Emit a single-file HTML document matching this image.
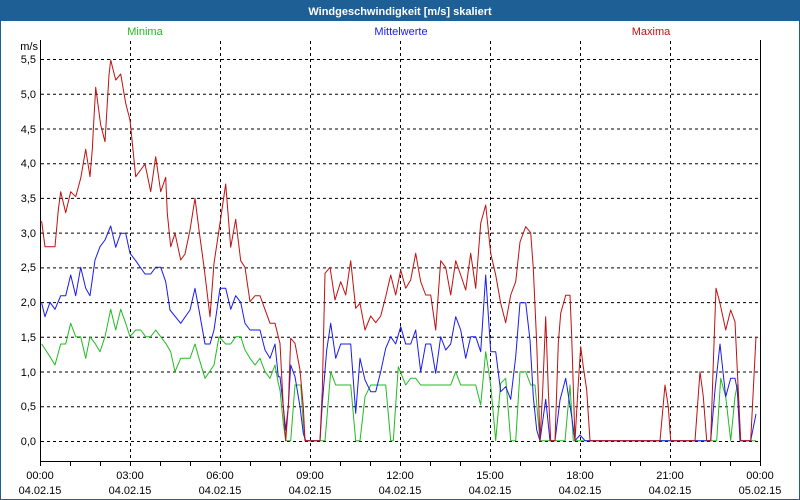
<!DOCTYPE html>
<html><head><meta charset="utf-8"><style>
html,body{margin:0;padding:0;background:#fff}
svg{display:block;font-family:"Liberation Sans",Tahoma,sans-serif}
</style></head><body>
<svg width="800" height="500" viewBox="0 0 800 500" xmlns="http://www.w3.org/2000/svg">
<rect x="0" y="0" width="800" height="500" fill="#fff"/>
<rect x="0.5" y="0.5" width="799" height="499" fill="none" stroke="#1e5f96" stroke-width="1"/>
<rect x="0" y="0" width="800" height="21" fill="#1e5f96"/>
<text x="400" y="15" text-anchor="middle" fill="#fff" font-size="11" font-weight="bold">Windgeschwindigkeit [m/s] skaliert</text>
<text x="145" y="35" text-anchor="middle" fill="#22bb22" font-size="11">Minima</text>
<text x="401" y="35" text-anchor="middle" fill="#1a1aee" font-size="11">Mittelwerte</text>
<text x="651" y="35" text-anchor="middle" fill="#c01010" font-size="11">Maxima</text>
<text x="38" y="50" text-anchor="end" font-size="11" fill="#000">m/s</text>
<g stroke="#000" stroke-width="1" stroke-dasharray="3,3" fill="none">
<path d="M41 441.5H760M41 406.8H760M41 372H760M41 337.3H760M41 302.6H760M41 267.9H760M41 233.1H760M41 198.4H760M41 163.7H760M41 129H760M41 94.2H760M41 59.5H760"/>
<path d="M130.5 41V461M220.5 41V461M310.5 41V461M400.5 41V461M490.5 41V461M580.5 41V461M670.5 41V461"/>
</g>
<g font-size="11" fill="#000" text-anchor="end">
<text x="36" y="445">0,0</text><text x="36" y="410">0,5</text><text x="36" y="376">1,0</text><text x="36" y="341">1,5</text><text x="36" y="306">2,0</text><text x="36" y="271">2,5</text><text x="36" y="237">3,0</text><text x="36" y="202">3,5</text><text x="36" y="167">4,0</text><text x="36" y="133">4,5</text><text x="36" y="98">5,0</text><text x="36" y="63">5,5</text>
</g>
<g stroke="#000" stroke-width="1" fill="none">
<path d="M40.5 40V461.5H760.5V40"/>
<path d="M40.5 461V466M70.5 461V466M100.5 461V466M130.5 461V466M160.5 461V466M190.5 461V466M220.5 461V466M250.5 461V466M280.5 461V466M310.5 461V466M340.5 461V466M370.5 461V466M400.5 461V466M430.5 461V466M460.5 461V466M490.5 461V466M520.5 461V466M550.5 461V466M580.5 461V466M610.5 461V466M640.5 461V466M670.5 461V466M700.5 461V466M730.5 461V466M760.5 461V466"/>
</g>
<g font-size="11" fill="#000" text-anchor="middle">
<text x="40" y="479">00:00</text><text x="40" y="494">04.02.15</text>
<text x="130" y="479">03:00</text><text x="130" y="494">04.02.15</text>
<text x="220" y="479">06:00</text><text x="220" y="494">04.02.15</text>
<text x="310" y="479">09:00</text><text x="310" y="494">04.02.15</text>
<text x="400" y="479">12:00</text><text x="400" y="494">04.02.15</text>
<text x="490" y="479">15:00</text><text x="490" y="494">04.02.15</text>
<text x="580" y="479">18:00</text><text x="580" y="494">04.02.15</text>
<text x="670" y="479">21:00</text><text x="670" y="494">04.02.15</text>
<text x="760" y="479">00:00</text><text x="760" y="494">05.02.15</text>
</g>
<g fill="none" stroke-width="1" stroke-linejoin="round">
<polyline stroke="#22bb22" points="41.7,344 50,356.7 55,365 60.7,344 65.7,344 70.7,323.3 75.7,336.7 80.7,336.7 85.7,358.3 90,336.7 95,343.3 100,351.7 105,336.7 110.7,309.3 115.7,330 120.7,309.3 125.7,323.3 130,336.7 135.7,330 140.7,330 145.7,336.7 150.7,336.7 155.7,330 160.7,336.7 165.7,343.3 170.7,351.7 175,371.7 180.7,358.3 190,358.3 195,344 199,358.3 205,378.3 214,365 219,336.7 225.7,344 230.7,344 235.7,336.7 240.7,336.7 245,350 250,358.3 255,365 260,358.3 265,371.7 270,378.3 275,365 278.3,383.3 280,390 283.3,423.3 285.7,440.7 290.7,440.7 295,385 300.7,385 303.3,423.3 305,440.7 325,440.7 330.7,371.7 335.7,385 350.7,385 355.7,440.7 360,440.7 365,396.7 370.7,385 385.7,385 390.7,440.7 393.3,440.7 398.3,366.7 405.7,385 410.7,378.3 415.7,378.3 420.7,385 450.7,385 455.7,371.7 460.7,385 475.7,385 480.7,405 485.7,351.7 490.7,385 495.7,440.7 500.7,383.3 505.7,378.3 510.7,440.7 515.7,440.7 520,371.7 525.7,371.7 530.7,385 535,385 540,440.7 565,440.7 570,385 573.3,440.7 716.7,440.7 720.7,378.3 725.7,396.7 730.7,440.7 735,396.7 737.3,385 740.7,440.7 756,440.7"/>
<polyline stroke="#1a1aee" points="41.7,303.3 45,316.7 50,302.3 55,309.3 60.7,295.7 65.7,295.7 70.7,275 75.7,295.7 80.7,267.3 85.7,288.3 90,295.7 95,260 100,246.7 105,240 110.7,226 115.7,247.3 120.7,233.3 125.7,233.3 130,253.3 135.7,260.7 145,274 150.7,274 155.7,267.3 160.7,267.3 165.7,281.7 170,310 180.7,323.3 190,310 195,288.3 199,310 205,344 210,344 214,330 220,288.3 225.7,288.3 230.7,309.3 235.7,295.7 240.7,302.3 245,323.3 250,330 260,330 265,350 270,358.3 275,344 278.3,376.7 280,376.7 283.3,406.7 285.7,430 288.3,406.7 290.7,365 295,376.7 300,406.7 303.3,433.3 305.7,440.7 320,440.7 322.3,403.3 326.7,350 330.7,323.3 335.7,358.3 340.7,344 350.7,344 355.7,413.3 360,358.3 365,380 370.7,391.7 375.7,391.7 380.7,371.7 385.7,348.3 390.7,336.7 395.7,344 400.7,326.7 405.7,344 410.7,344 415.7,330 420.7,371.7 425.7,344 430.7,344 435.7,373.3 440.7,336.7 445.7,350 450.7,344 455.7,316.7 460.7,330 465.7,358.3 470.7,336.7 475.7,336.7 480.7,351.7 485.7,275 490.7,351.7 495.7,351.7 500.7,391.7 505.7,386.7 510.7,399.3 515.7,356.7 520,302.7 525.7,302.7 530,340 533.3,396.7 536.7,430 540,440.7 545.7,399.3 550,440.7 555,440.7 560,400 565.7,378.3 571.7,416.7 575,440.7 580,435 585,440.7 710.7,440.7 715,390 720,344 725.7,396.7 730.7,378.3 735,378.3 737.3,390 740,440.7 750.7,440.7 756,414"/>
<polyline stroke="#c01010" points="40.5,221.7 41.7,221.7 45,246.7 55,246.7 58.3,210 60.7,191.7 65.7,212.7 70.7,191.7 75.7,196.7 80.7,178.3 85.7,149.3 90,176.7 92.3,149.3 93.3,130 95.7,87.3 100.7,125 105,141.7 109,75 110.7,60 115.7,80 120.7,74 125.7,103.3 130,120 135.7,176.7 145,164 150.7,191.7 155.7,156.7 160.7,191.7 165.7,177.3 167.3,213.3 170.7,246.7 175,233.3 180.7,260 185,254 190,230 195,198.3 199,230 204,266.7 210,316.7 214,263.3 219,230 225.7,184 230.7,247.3 235.7,219.3 240.7,260.7 245,267.3 250,301.7 255,295.7 260,295.7 270,323.3 275,323.3 278.3,336.7 280,343.3 283.3,406.7 285.7,440.7 288.3,406.7 290.7,338.3 295,343.3 300,370 303.3,406.7 305,440.7 320,440.7 322.3,390 325,273.3 330,267.3 335,300 340.7,281.7 345.7,295 350.7,260.7 355.7,308.3 360,303.3 365,330 370.7,316 375.7,322.7 380.7,316 385.7,296.7 390.7,275 395.7,295 400.7,270 405.7,288.3 410.7,280 415.7,253.3 420.7,281.7 425.7,295 430.7,295 435.7,330 440.7,260.7 445.7,267.3 450.7,295 455.7,260.7 460.7,275 465.7,290 470.7,253.3 475.7,288.3 480.7,223.3 485.7,205 490.7,253.3 495.7,275 500.7,303.3 505.7,322.7 510.7,295 515.7,281.7 520,242 525.7,226.7 530.7,232.7 533.3,268.3 536.7,343.3 540,440.7 542.7,390 545.7,316.7 548.3,390 550.7,440.7 555,440.7 558.3,343.3 560.7,313.3 565.7,295.3 570,295.3 571.7,336.7 575,440.7 578.3,383.3 580.7,346.7 583.3,366.7 586.7,390 590,440.7 660,440.7 665,385 668.3,406.7 670.7,440.7 695,440.7 700,371.7 703.3,396.7 706.7,440.7 710.7,440.7 713.3,363.3 716,288.3 720,303.3 725.7,330 730.7,310 735,321.7 737.3,370 740.7,440.7 750.7,440.7 756,336.7"/>
</g>
</svg>
</body></html>
